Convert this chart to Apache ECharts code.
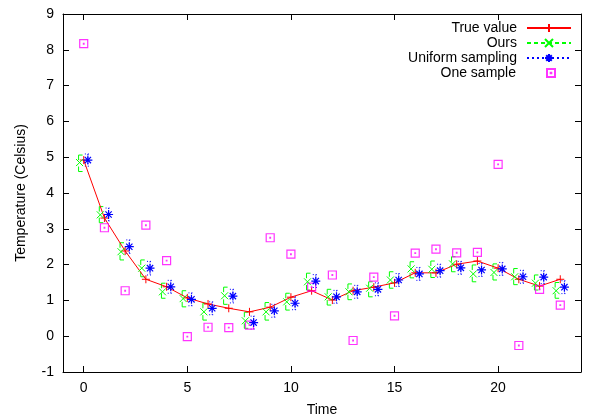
<!DOCTYPE html>
<html><head><meta charset="utf-8">
<script src="https://cdn.jsdelivr.net/npm/echarts@6/dist/echarts.min.js"></script>
<style>html,body{margin:0;padding:0;background:#fff}#c{width:590px;height:419px}</style>
</head><body><div id="c"></div>
<script>
// ---- data ----
const times = [0,1,2,3,4,5,6,7,8,9,10,11,12,13,14,15,16,17,18,19,20,21,22,23];
const trueValue = [4.92,3.30,2.38,1.59,1.38,1.07,0.90,0.78,0.68,0.81,1.09,1.27,1.01,1.27,1.37,1.49,1.77,1.77,2.01,2.10,1.90,1.59,1.40,1.59];
const ours      = [4.85,3.39,2.36,1.90,1.24,1.05,0.68,1.13,0.43,0.68,0.96,1.52,1.10,1.24,1.34,1.57,1.88,1.87,2.02,1.74,1.78,1.66,1.48,1.27];
const oursLow   = [4.60,3.17,2.13,1.66,1.06,0.82,0.45,0.89,0.22,0.45,0.73,1.29,0.87,1.02,1.10,1.34,1.63,1.64,1.80,1.52,1.57,1.44,1.29,1.06];
const oursHigh  = [5.06,3.62,2.61,2.13,1.48,1.27,0.92,1.37,0.67,0.94,1.20,1.76,1.31,1.46,1.52,1.80,2.08,2.10,2.22,1.99,2.02,1.89,1.71,1.50];
const uniform     = [4.92,3.40,2.50,1.90,1.38,1.03,0.78,1.12,0.38,0.71,0.92,1.54,1.10,1.24,1.31,1.57,1.74,1.83,1.91,1.85,1.88,1.66,1.65,1.37];
const uniformLow  = [4.75,3.22,2.31,1.71,1.20,0.85,0.60,0.93,0.20,0.53,0.74,1.36,0.92,1.06,1.13,1.39,1.56,1.65,1.73,1.67,1.70,1.48,1.47,1.19];
const uniformHigh = [5.09,3.58,2.69,2.09,1.56,1.21,0.96,1.31,0.56,0.89,1.10,1.72,1.28,1.42,1.49,1.75,1.92,2.01,2.09,2.03,2.06,1.84,1.83,1.55];
const oneSample = [8.17,3.03,1.27,3.10,2.11,-0.01,0.25,0.24,0.31,2.75,2.29,1.37,1.71,-0.12,1.65,0.57,2.32,2.43,2.33,2.34,4.80,-0.26,1.31,0.87];
const xTicks = [0,5,10,15,20];
const seriesNames = ['True value','Ours','Uniform sampling','One sample'];

// ---- styling ----
const FONT = "'Liberation Sans', Arial, Helvetica, sans-serif";
const OURS_SHIFT = -0.2, UNI_SHIFT = 0.2;
const symPlus = 'path://M0,5L10,5M5,0L5,10';
const symCross = 'path://M0,0L10,10M0,10L10,0';
const symStar = 'path://M0,5L10,5M5,0L5,10M1.5,1.5L8.5,8.5M1.5,8.5L8.5,1.5';
const symBox = 'path://M0,0L10,0L10,10L0,10ZM4.6,4.6L5.4,4.6L5.4,5.4L4.6,5.4Z';

function broken(vals, shift) {
  const out = [];
  times.forEach((t, i) => { out.push([t + shift, vals[i]]); out.push([t + shift, '-']); });
  return out;
}
function errData(lo, hi, shift) {
  return times.map((t, i) => [t + shift, lo[i], hi[i]]);
}
function errRender(kind) {
  return function (params, api) {
    const x = api.value(0);
    const top = api.coord([x, api.value(2)]);
    const bot = api.coord([x, api.value(1)]);
    const color = api.visual('color');
    const st = { stroke: color, lineWidth: 1 };
    if (kind === 'dashed') {
      return { type: 'group', children: [
        { type: 'line', shape: { x1: top[0]-1, y1: top[1], x2: top[0]+3, y2: top[1] }, style: st },
        { type: 'line', shape: { x1: top[0]-1, y1: top[1], x2: top[0]-1, y2: top[1]+5 }, style: st },
        { type: 'line', shape: { x1: bot[0]-1, y1: bot[1], x2: bot[0]+3, y2: bot[1] }, style: st },
        { type: 'line', shape: { x1: bot[0]-1, y1: bot[1], x2: bot[0]-1, y2: bot[1]-5 }, style: st }
      ]};
    }
    const ds = Object.assign({ lineDash: [1, 2] }, st);
    return { type: 'group', children: [
      { type: 'line', shape: { x1: top[0], y1: top[1], x2: bot[0], y2: bot[1] }, style: ds },
      { type: 'line', shape: { x1: top[0]-3, y1: top[1], x2: top[0]+3, y2: top[1] }, style: ds },
      { type: 'line', shape: { x1: bot[0]-3, y1: bot[1], x2: bot[0]+3, y2: bot[1] }, style: ds }
    ]};
  };
}

const legendTops = [21, 36, 51, 66];
const legends = seriesNames.map((n, i) => ({
  data: [n], right: i === 3 ? 34 : 18, top: legendTops[i], align: 'right', orient: 'horizontal',
  padding: 0, itemWidth: 44, itemHeight: i === 3 ? 8 : 10, selectedMode: false,
  textStyle: { fontFamily: FONT, fontSize: 14, color: '#000', padding: [0, i === 3 ? 8 : 5, 0, 0] }
}));

const axisCommonX = {
  type: 'value', min: -1, max: 24,
  axisLine: { show: true, onZero: false, lineStyle: { color: '#000', width: 1 } },
  axisTick: { show: true, inside: true, length: 6, customValues: xTicks, lineStyle: { color: '#000' } },
  splitLine: { show: false }
};
const axisCommonY = {
  type: 'value', min: -1, max: 9, interval: 1,
  axisLine: { show: true, onZero: false, lineStyle: { color: '#000', width: 1 } },
  axisTick: { show: true, inside: true, length: 6, lineStyle: { color: '#000' } },
  splitLine: { show: false }
};

const option = {
  animation: false,
  backgroundColor: '#fff',
  grid: { left: 63, right: 9, top: 14, bottom: 47, containLabel: false, outerBoundsMode: 'none' },
  legend: legends,
  xAxis: [
    Object.assign({}, axisCommonX, {
      position: 'bottom', name: 'Time', nameLocation: 'middle', nameGap: 31,
      nameTextStyle: { fontFamily: FONT, fontSize: 14, color: '#000' },
      axisLabel: { customValues: xTicks, fontFamily: FONT, fontSize: 14, color: '#000', margin: 9 }
    }),
    Object.assign({}, axisCommonX, { position: 'top', axisLabel: { show: false } })
  ],
  yAxis: [
    Object.assign({}, axisCommonY, {
      position: 'left', name: 'Temperature (Celsius)', nameLocation: 'middle', nameGap: 35,
      nameTextStyle: { fontFamily: FONT, fontSize: 14, color: '#000' },
      axisLabel: { fontFamily: FONT, fontSize: 14, color: '#000', margin: 9 }
    }),
    Object.assign({}, axisCommonY, { position: 'right', axisLabel: { show: false } })
  ],
  series: [
    { type: 'custom', name: 'oursErr', silent: true, renderItem: errRender('dashed'),
      itemStyle: { color: '#00ff00' }, encode: { x: 0, y: [1, 2] },
      data: errData(oursLow, oursHigh, OURS_SHIFT), z: 2 },
    { type: 'custom', name: 'uniErr', silent: true, renderItem: errRender('dotted'),
      itemStyle: { color: '#0000ff' }, encode: { x: 0, y: [1, 2] },
      data: errData(uniformLow, uniformHigh, UNI_SHIFT), z: 2 },
    { type: 'line', name: 'True value', data: times.map((t, i) => [t, trueValue[i]]),
      symbol: symPlus, symbolSize: 8, showSymbol: true,
      lineStyle: { color: '#ff0000', width: 1 },
      itemStyle: { color: 'rgba(0,0,0,0)', borderColor: '#ff0000', borderWidth: 1 }, z: 3 },
    { type: 'line', name: 'Ours', data: broken(ours, OURS_SHIFT), connectNulls: false,
      symbol: symCross, symbolSize: 7, showSymbol: true,
      lineStyle: { color: '#00ff00', width: 1, type: [4, 3] },
      itemStyle: { color: 'rgba(0,0,0,0)', borderColor: '#00ff00', borderWidth: 1 }, z: 4 },
    { type: 'line', name: 'Uniform sampling', data: broken(uniform, UNI_SHIFT), connectNulls: false,
      symbol: symStar, symbolSize: 9, showSymbol: true,
      lineStyle: { color: '#0000ff', width: 1, type: [2, 3] },
      itemStyle: { color: 'rgba(0,0,0,0)', borderColor: '#0000ff', borderWidth: 1.2 }, z: 4 },
    { type: 'scatter', name: 'One sample', data: times.map((t, i) => [t, oneSample[i]]),
      symbol: symBox, symbolSize: 8,
      itemStyle: { color: 'rgba(0,0,0,0)', borderColor: '#ff00ff', borderWidth: 1.2 }, z: 3 }
  ]
};
const chart = echarts.init(document.getElementById('c'), null, { renderer: 'canvas' });
chart.setOption(option);
</script>
</body></html>
